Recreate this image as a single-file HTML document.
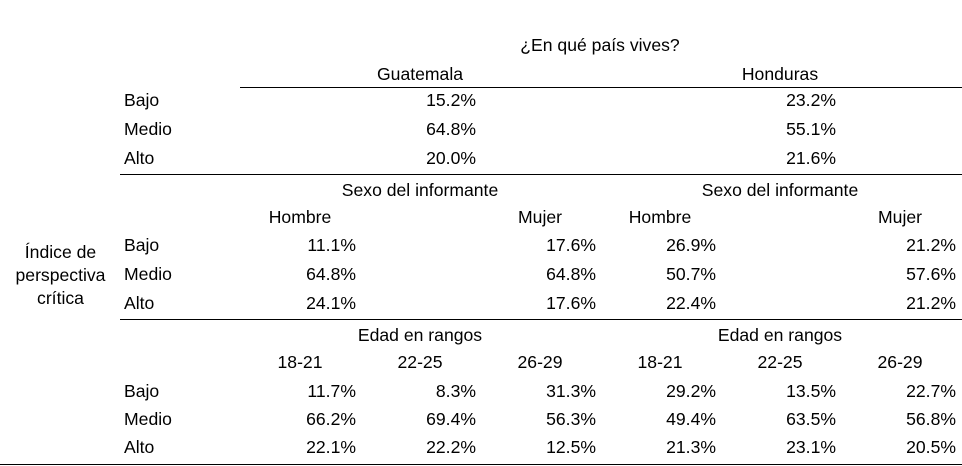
<!DOCTYPE html>
<html>
<head>
<meta charset="utf-8">
<style>
html,body{margin:0;padding:0;background:#fff;}
body{width:962px;height:466px;position:relative;overflow:hidden;font-family:"Liberation Sans",Arial,sans-serif;font-size:17.6px;color:#000;}
.t{position:absolute;line-height:20px;white-space:nowrap;}
.c{width:240px;text-align:center;}
.r{width:100px;text-align:right;}
.hl{position:absolute;height:1px;background:#000;}
</style>
</head>
<body>
<!-- header -->
<div class="t c" style="left:480px;top:34.7px;">¿En qué país vives?</div>
<div class="t c" style="left:300px;top:64px;">Guatemala</div>
<div class="t c" style="left:660px;top:64px;">Honduras</div>
<div class="hl" style="left:240px;top:87px;width:722px;"></div>

<!-- block 1 -->
<div class="t" style="left:124px;top:90px;">Bajo</div>
<div class="t" style="left:124px;top:119px;">Medio</div>
<div class="t" style="left:124px;top:148px;">Alto</div>
<div class="t r" style="left:376px;top:90px;">15.2%</div>
<div class="t r" style="left:376px;top:119px;">64.8%</div>
<div class="t r" style="left:376px;top:148px;">20.0%</div>
<div class="t r" style="left:736px;top:90px;">23.2%</div>
<div class="t r" style="left:736px;top:119px;">55.1%</div>
<div class="t r" style="left:736px;top:148px;">21.6%</div>
<div class="hl" style="left:120px;top:174px;width:842px;"></div>

<!-- block 2 -->
<div class="t c" style="left:300px;top:180px;">Sexo del informante</div>
<div class="t c" style="left:660px;top:180px;">Sexo del informante</div>
<div class="t c" style="left:180px;top:207.3px;">Hombre</div>
<div class="t c" style="left:420px;top:207.3px;">Mujer</div>
<div class="t c" style="left:540px;top:207.3px;">Hombre</div>
<div class="t c" style="left:780px;top:207.3px;">Mujer</div>

<div class="t" style="left:0;width:121px;text-align:center;top:240.5px;line-height:23.3px;">Índice de<br>perspectiva<br>crítica</div>

<div class="t" style="left:124px;top:234.7px;">Bajo</div>
<div class="t" style="left:124px;top:264px;">Medio</div>
<div class="t" style="left:124px;top:293px;">Alto</div>
<div class="t r" style="left:256px;top:234.7px;">11.1%</div>
<div class="t r" style="left:256px;top:264px;">64.8%</div>
<div class="t r" style="left:256px;top:293px;">24.1%</div>
<div class="t r" style="left:496px;top:234.7px;">17.6%</div>
<div class="t r" style="left:496px;top:264px;">64.8%</div>
<div class="t r" style="left:496px;top:293px;">17.6%</div>
<div class="t r" style="left:616px;top:234.7px;">26.9%</div>
<div class="t r" style="left:616px;top:264px;">50.7%</div>
<div class="t r" style="left:616px;top:293px;">22.4%</div>
<div class="t r" style="left:856px;top:234.7px;">21.2%</div>
<div class="t r" style="left:856px;top:264px;">57.6%</div>
<div class="t r" style="left:856px;top:293px;">21.2%</div>
<div class="hl" style="left:120px;top:319px;width:842px;"></div>

<!-- block 3 -->
<div class="t c" style="left:300px;top:325px;">Edad en rangos</div>
<div class="t c" style="left:660px;top:325px;">Edad en rangos</div>
<div class="t c" style="left:180px;top:352.3px;">18-21</div>
<div class="t c" style="left:300px;top:352.3px;">22-25</div>
<div class="t c" style="left:420px;top:352.3px;">26-29</div>
<div class="t c" style="left:540px;top:352.3px;">18-21</div>
<div class="t c" style="left:660px;top:352.3px;">22-25</div>
<div class="t c" style="left:780px;top:352.3px;">26-29</div>

<div class="t" style="left:124px;top:380.7px;">Bajo</div>
<div class="t" style="left:124px;top:409px;">Medio</div>
<div class="t" style="left:124px;top:437.3px;">Alto</div>

<div class="t r" style="left:256px;top:380.7px;">11.7%</div>
<div class="t r" style="left:256px;top:409px;">66.2%</div>
<div class="t r" style="left:256px;top:437.3px;">22.1%</div>
<div class="t r" style="left:376px;top:380.7px;">8.3%</div>
<div class="t r" style="left:376px;top:409px;">69.4%</div>
<div class="t r" style="left:376px;top:437.3px;">22.2%</div>
<div class="t r" style="left:496px;top:380.7px;">31.3%</div>
<div class="t r" style="left:496px;top:409px;">56.3%</div>
<div class="t r" style="left:496px;top:437.3px;">12.5%</div>
<div class="t r" style="left:616px;top:380.7px;">29.2%</div>
<div class="t r" style="left:616px;top:409px;">49.4%</div>
<div class="t r" style="left:616px;top:437.3px;">21.3%</div>
<div class="t r" style="left:736px;top:380.7px;">13.5%</div>
<div class="t r" style="left:736px;top:409px;">63.5%</div>
<div class="t r" style="left:736px;top:437.3px;">23.1%</div>
<div class="t r" style="left:856px;top:380.7px;">22.7%</div>
<div class="t r" style="left:856px;top:409px;">56.8%</div>
<div class="t r" style="left:856px;top:437.3px;">20.5%</div>
<div class="hl" style="left:0;top:464px;width:962px;"></div>
</body>
</html>
